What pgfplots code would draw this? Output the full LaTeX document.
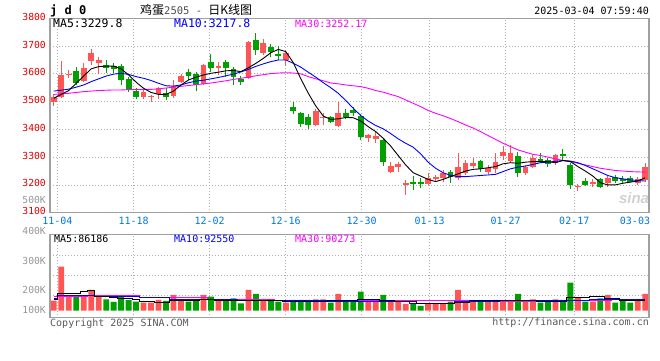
\documentclass[border=0pt]{standalone}
\usepackage{pgfplots}
\pgfplotsset{compat=1.18}
\usepackage{pgfplotstable}
\usepackage{fontspec}
\setmainfont{DejaVu Sans Mono}
\newfontfamily\cjk{Noto Sans CJK SC}
\newfontfamily\sansf{Liberation Sans}
\definecolor{cR}{RGB}{255,85,85}
\definecolor{cG}{RGB}{0,160,0}
\definecolor{cMag}{RGB}{255,0,255}
\definecolor{cBlue}{RGB}{0,0,255}
\definecolor{cFrame}{RGB}{160,160,160}
\definecolor{cGrid}{RGB}{175,175,175}
\definecolor{cTickR}{RGB}{220,0,0}
\definecolor{cDate}{RGB}{0,120,220}
\definecolor{cVolL}{RGB}{150,150,150}

% red candles: x O H L C
\pgfplotstableread{
x O H L C
0 3500 3527 3484 3516
1 3518 3645 3514 3596
2 3595 3613 3584 3601
4 3575 3638 3570 3620
5 3646 3688 3631 3674
6 3638 3662 3600 3650
12 3518 3545 3510 3534
13 3517 3524 3500 3521
14 3527 3554 3509 3548
16 3522 3578 3512 3558
17 3572 3600 3568 3593
20 3563 3636 3560 3632
22 3620 3644 3596 3629
26 3586 3718 3582 3715
28 3674 3724 3668 3712
31 3651 3686 3630 3674
35 3416 3472 3412 3467
36 3442 3460 3416 3446
38 3412 3500 3410 3460
42 3368 3385 3356 3380
43 3366 3392 3352 3376
45 3248 3282 3242 3268
46 3266 3284 3248 3274
47 3203 3218 3164 3206
50 3203 3244 3200 3224
51 3221 3236 3212 3227
52 3224 3254 3212 3242
54 3224 3316 3218 3263
55 3242 3290 3236 3278
56 3268 3296 3262 3280
58 3248 3272 3240 3260
59 3256 3314 3242 3284
60 3304 3340 3290 3320
61 3287 3344 3280 3316
63 3244 3272 3236 3266
64 3266 3308 3260 3296
67 3278 3313 3270 3308
70 3192 3203 3179 3197
72 3206 3220 3192 3211
74 3206 3232 3194 3226
78 3208 3228 3200 3220
79 3218 3278 3212 3266
}\redK

% green candles: x O H L C
\pgfplotstableread{
x O H L C
3 3612 3624 3560 3566
7 3632 3650 3603 3620
8 3628 3640 3604 3618
9 3629 3637 3560 3578
10 3581 3590 3536 3542
11 3539 3548 3509 3518
15 3530 3548 3506 3518
18 3605 3618 3578 3593
19 3600 3607 3540 3560
21 3641 3671 3605 3620
23 3643 3650 3590 3622
24 3618 3626 3560 3588
25 3580 3592 3560 3572
27 3722 3748 3668 3686
29 3697 3706 3659 3680
30 3672 3700 3650 3666
32 3482 3498 3455 3468
33 3460 3464 3410 3419
34 3446 3455 3400 3416
37 3443 3448 3424 3428
39 3460 3472 3436 3443
40 3470 3482 3448 3460
41 3448 3456 3362 3372
44 3362 3368 3268 3284
48 3210 3232 3182 3202
49 3210 3224 3188 3206
53 3248 3254 3206 3230
57 3286 3290 3248 3256
62 3304 3320 3227 3244
65 3293 3314 3278 3287
66 3290 3296 3264 3275
68 3310 3328 3287 3306
69 3272 3278 3184 3200
71 3213 3224 3196 3200
73 3220 3226 3188 3192
75 3227 3236 3206 3214
76 3220 3232 3207 3215
77 3224 3232 3210 3212
}\greenK

% price moving averages
\pgfplotstableread{
x m5 m10 m30
0 3512 3538 3526
1 3526 3541 3528
2 3540 3545 3530
3 3566 3552 3533
4 3592 3560 3536
5 3618 3572 3538
6 3626 3582 3540
7 3628 3592 3541
8 3628 3599 3542
9 3618 3602 3542
10 3596 3598 3543
11 3570 3590 3543
12 3548 3584 3544
13 3533 3576 3544
14 3526 3566 3546
15 3526 3557 3549
16 3538 3556 3552
17 3560 3560 3555
18 3578 3568 3558
19 3588 3574 3561
20 3596 3577 3564
21 3602 3582 3567
22 3606 3587 3571
23 3611 3593 3575
24 3612 3599 3580
25 3608 3607 3584
26 3622 3616 3588
27 3638 3627 3593
28 3656 3636 3597
29 3676 3644 3601
30 3688 3650 3603
31 3680 3650 3604
32 3640 3638 3603
33 3582 3624 3600
34 3530 3606 3590
35 3484 3588 3582
36 3448 3568 3575
37 3436 3550 3567
38 3438 3530 3564
39 3443 3504 3560
40 3442 3476 3557
41 3430 3450 3554
42 3410 3430 3548
43 3392 3414 3540
44 3368 3402 3534
45 3340 3385 3526
46 3306 3366 3518
47 3272 3350 3506
48 3244 3336 3494
49 3232 3312 3482
50 3220 3282 3468
51 3212 3260 3458
52 3220 3244 3449
53 3230 3234 3439
54 3240 3230 3428
55 3250 3230 3416
56 3256 3232 3405
57 3258 3234 3392
58 3262 3236 3378
59 3266 3238 3364
60 3276 3248 3350
61 3280 3258 3338
62 3278 3264 3326
63 3282 3268 3318
64 3284 3274 3310
65 3284 3280 3306
66 3284 3282 3300
67 3280 3285 3294
68 3288 3288 3288
69 3284 3286 3284
70 3266 3280 3278
71 3250 3270 3272
72 3232 3258 3266
73 3208 3246 3260
74 3200 3234 3256
75 3200 3226 3252
76 3206 3222 3250
77 3210 3218 3248
78 3214 3216 3247
79 3226 3214 3246
}\maK

% volume (K)
\pgfplotstableread{
x V
0 80
1 352
2 122
4 122
5 166
6 122
12 64
13 64
14 86
16 126
17 86
20 126
22 86
26 166
28 91
31 64
35 91
36 91
38 134
42 86
43 72
45 72
46 72
47 54
50 59
51 59
52 59
54 166
55 86
56 78
58 72
59 86
60 72
61 72
63 72
64 91
67 91
70 107
72 72
74 126
78 91
79 134
}\redV

\pgfplotstableread{
x V
3 122
7 91
8 70
9 120
10 86
11 72
15 78
18 72
19 91
21 112
23 86
24 99
25 59
27 134
29 86
30 72
32 86
33 86
34 86
37 64
39 72
40 72
41 152
44 126
48 54
49 38
53 72
57 78
62 134
65 64
66 72
68 86
69 224
71 72
73 99
75 64
76 86
77 64
}\greenV

\pgfplotstableread{
x v5 v10 v30
0 91 99 118
1 139 126 118
2 139 126 118
3 139 126 118
4 152 126 118
5 160 126 126
6 118 118 126
7 118 118 126
8 110 118 126
9 99 118 126
10 99 118 126
11 90 118 126
12 72 107 105
13 72 107 105
14 70 107 105
15 64 107 105
16 86 94 105
17 86 94 105
18 86 94 105
19 86 94 105
20 91 94 105
21 91 94 94
22 86 94 94
23 86 94 94
24 86 94 94
25 80 86 94
26 80 86 94
27 86 86 94
28 86 86 94
29 86 86 94
30 86 80 86
31 72 80 86
32 72 80 86
33 72 80 86
34 72 80 86
35 72 80 86
36 72 80 86
37 86 72 86
38 86 72 86
39 86 72 86
40 86 72 86
41 91 72 86
42 91 72 86
43 91 72 86
44 86 72 86
45 86 72 86
46 72 72 86
47 72 72 86
48 72 59 80
49 56 59 80
50 56 59 80
51 56 59 80
52 56 59 80
53 56 59 80
54 64 72 80
55 64 72 80
56 86 72 80
57 86 72 80
58 86 72 80
59 86 72 80
60 80 80 76
61 80 80 76
62 86 80 76
63 86 80 76
64 86 80 76
65 72 80 76
66 72 80 76
67 72 80 76
68 72 80 76
69 107 86 84
70 107 86 84
71 107 86 84
72 112 91 86
73 112 91 86
74 99 91 86
75 99 91 88
76 86 92 88
77 86 92 88
78 86 92 88
79 86 92 88
}\volMA

\pgfplotsset{
  panel/.style={
    scale only axis, width=599pt, xmin=-0.5, xmax=79.5,
    axis line style={draw=cFrame, line width=1.3pt},
    tick style={draw=none},
    major tick length=0pt,
    xmajorgrids, ymajorgrids,
    grid style={draw=cGrid, line width=0.8pt, dash pattern=on 1pt off 2pt},
    xtick={0.475,10.68,20.83,30.98,41.13,50.21,60.36,69.52},
  },
  wick/.style={draw=none, mark=none, forget plot,
    error bars/.cd, y dir=both, y explicit, error mark=none,
    error bar style={draw=#1, line width=1pt}},
  body/.style={draw=none, mark=none, forget plot,
    error bars/.cd, y dir=both, y explicit, error mark=none,
    error bar style={draw=#1, line width=5.8pt}},
}

\begin{document}
\begin{tikzpicture}[x=1pt,y=1pt]

% ---------- price panel ----------
\begin{axis}[panel, at={(50pt,147.3pt)}, anchor=south west, height=194.4pt,
  ymin=3100, ymax=3800,
  ytick={3100,3200,3300,3400,3500,3600,3700,3800},
  yticklabels={3100,3200,3300,3400,3500,3600,3700,3800},
  yticklabel style={font=\fontsize{9.7}{11}\selectfont, text=cTickR, anchor=east, inner sep=0pt, xshift=-4pt, yshift=1.5pt},
  xticklabels={11-04,11-18,12-02,12-16,12-30,01-13,01-27,02-17},
  xticklabel style={font=\fontsize{10}{12}\selectfont, text=cDate, anchor=north, inner sep=0pt, yshift=-4.5pt},
  extra x ticks={77.63}, extra x tick labels={03-03},
  extra x tick style={grid=none},
]
\addplot[wick=cR] table[x=x, y expr={(\thisrow{H}+\thisrow{L})/2}, y error expr={(\thisrow{H}-\thisrow{L})/2}] {\redK};
\addplot[wick=cG] table[x=x, y expr={(\thisrow{H}+\thisrow{L})/2}, y error expr={(\thisrow{H}-\thisrow{L})/2}] {\greenK};
\addplot[body=cR] table[x=x, y expr={(\thisrow{O}+\thisrow{C})/2}, y error expr={(\thisrow{C}-\thisrow{O})/2}] {\redK};
\addplot[body=cG] table[x=x, y expr={(\thisrow{O}+\thisrow{C})/2}, y error expr={(\thisrow{O}-\thisrow{C})/2}] {\greenK};
\addplot[cMag, line width=0.9pt, mark=none] table[x=x, y=m30] {\maK};
\addplot[cBlue, line width=0.9pt, mark=none] table[x=x, y=m10] {\maK};
\addplot[black, line width=0.9pt, mark=none] table[x=x, y=m5] {\maK};
\end{axis}

% ---------- volume panel ----------
\begin{axis}[panel, at={(50pt,42.3pt)}, anchor=south west, height=83.4pt,
  ymin=-56, ymax=611.2,
  ytick={120,280,440}, yticklabels={},
  xticklabels={},
]
\addplot[ybar, bar width=5.8pt, bar shift=0pt, fill=cR, draw=none] table[x=x, y=V] {\redV};
\addplot[ybar, bar width=5.8pt, bar shift=0pt, fill=cG, draw=none] table[x=x, y=V] {\greenV};
\addplot[const plot mark mid, cMag, line width=0.9pt, mark=none] table[x=x, y=v30] {\volMA};
\addplot[const plot mark mid, cBlue, line width=0.9pt, mark=none] table[x=x, y=v10] {\volMA};
\addplot[const plot mark mid, black, line width=0.9pt, mark=none] table[x=x, y=v5] {\volMA};
\end{axis}

% ---------- texts ----------
\node[anchor=west, inner sep=0pt, font=\fontsize{12}{14}\selectfont\bfseries] at (50,349) {j d 0};
\node[anchor=west, inner sep=0pt] at (140,350) {{\cjk\fontsize{12}{14}\selectfont 鸡蛋}{\fontsize{10.5}{12}\selectfont\color{black!70}2505 - }{\cjk\fontsize{12}{14}\selectfont 日K线图}};
\node[anchor=east, inner sep=0pt, font=\fontsize{10}{12}\selectfont] at (649,349) {2025-03-04 07:59:40};

\node[anchor=west, inner sep=0pt, font=\fontsize{11.5}{13}\selectfont] at (53,336.5) {MA5:3229.8};
\node[anchor=west, inner sep=0pt, font=\fontsize{11.5}{13}\selectfont, text=cBlue] at (174,336.5) {MA10:3217.8};
\node[anchor=west, inner sep=0pt, font=\fontsize{10}{12}\selectfont, text=cMag] at (295,336.5) {MA30:3252.17};

\node[anchor=west, inner sep=0pt, font=\fontsize{10}{12}\selectfont] at (54,121.5) {MA5:86186};
\node[anchor=west, inner sep=0pt, font=\fontsize{10}{12}\selectfont, text=cBlue] at (174,121.5) {MA10:92550};
\node[anchor=west, inner sep=0pt, font=\fontsize{10}{12}\selectfont, text=cMag] at (295,121.5) {MA30:90273};

\node[anchor=east, inner sep=0pt, font=\fontsize{9.7}{11}\selectfont, text=cVolL] at (46,160) {500K};
\node[anchor=east, inner sep=0pt, font=\fontsize{9.7}{11}\selectfont, text=cVolL] at (46,129.3) {400K};
\node[anchor=east, inner sep=0pt, font=\fontsize{9.7}{11}\selectfont, text=cVolL] at (46,99.3) {300K};
\node[anchor=east, inner sep=0pt, font=\fontsize{9.7}{11}\selectfont, text=cVolL] at (46,70) {200K};
\node[anchor=east, inner sep=0pt, font=\fontsize{9.7}{11}\selectfont, text=cVolL] at (46,50) {100K};

\node[anchor=west, inner sep=0pt, font=\fontsize{10}{12}\selectfont, text=black!65] at (50,36.5) {Copyright 2025 SINA.COM};
\node[anchor=east, inner sep=0pt, font=\fontsize{10}{12}\selectfont, text=black!65] at (649,37) {http://finance.sina.com.cn};

\node[anchor=center, inner sep=0pt, font=\sansf\fontsize{15}{17}\selectfont\bfseries\itshape, text=black!18] at (634,162) {sina};

\pgfresetboundingbox
\path[use as bounding box] (0,0) rectangle (660,360);
\end{tikzpicture}
\end{document}
